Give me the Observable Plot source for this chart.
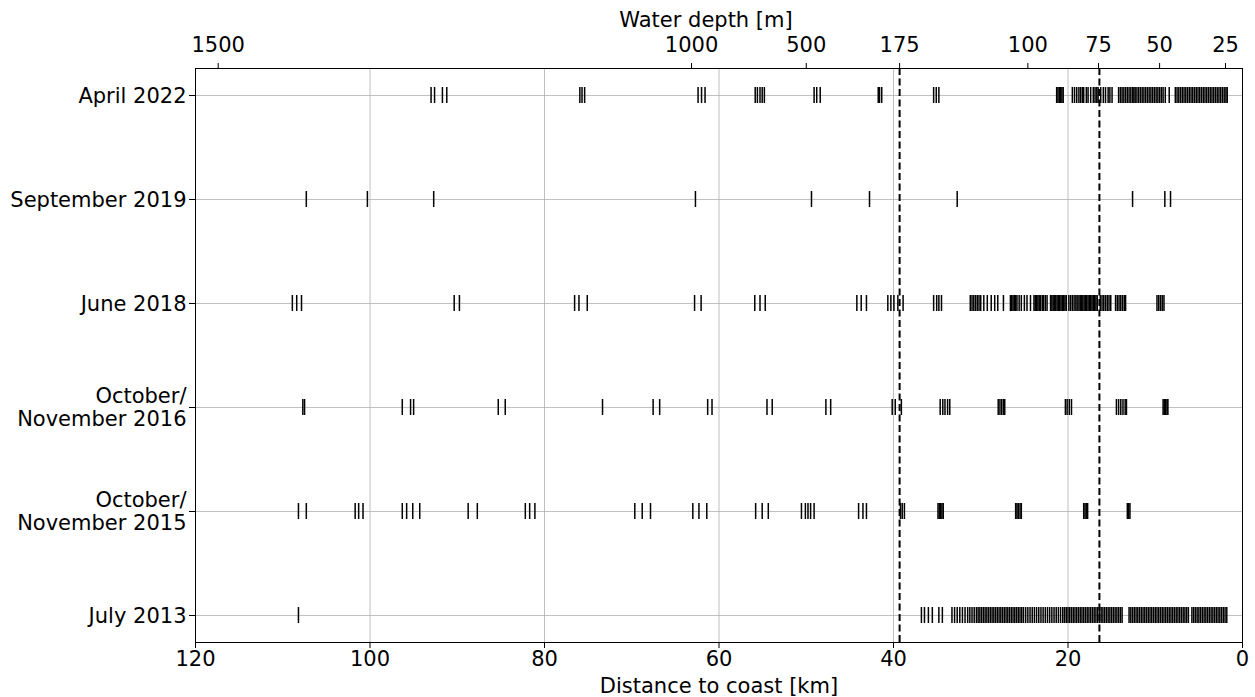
<!DOCTYPE html>
<html>
<head>
<meta charset="utf-8">
<script src="https://cdn.jsdelivr.net/npm/d3@7"></script>
<script src="https://cdn.jsdelivr.net/npm/@observablehq/plot@0.6"></script>
<style>
  html, body { margin: 0; padding: 0; background: #fff; }
</style>
</head>
<body>
<div id="chart"></div>
<script>
// Survey rows (top to bottom)
const surveys = ["April 2022", "September 2019", "June 2018", "October/\nNovember 2016", "October/\nNovember 2015", "July 2013"];

// Station positions: distance to coast [km]
const april2022 = [93.0, 92.6, 91.7, 91.2, 75.95, 75.7, 75.4, 62.4, 62.0, 61.6,
  55.85, 55.6, 55.3, 55.05, 54.8, 49.1, 48.8, 48.4, 41.75, 41.6, 41.35, 35.4, 35.1, 34.8,
  21.3, 21.15, 21.0, 20.85, 20.7, 20.55,
  19.5, 19.25, 19.0, 18.75, 18.55, 18.35, 18.2, 17.9, 17.7, 17.4, 17.1, 16.9, 16.7, 16.55, 16.25, 15.95, 15.7, 15.4, 15.2, 14.95,
  14.2, 14.0, 13.8, 13.6, 13.4, 13.2, 13.0, 12.8, 12.6, 12.45,
  12.3, 12.1, 11.9, 11.7, 11.5, 11.3, 11.1, 10.9, 10.7, 10.5, 10.3, 10.1, 9.9, 9.7, 9.5, 9.3, 9.1, 8.85,
  8.4,
  7.7, 7.5, 7.3, 7.1, 6.9, 6.7, 6.5, 6.3, 6.1, 5.9, 5.7, 5.5, 5.3, 5.1, 4.9, 4.7, 4.5, 4.3, 4.1, 3.9, 3.7, 3.5, 3.3, 3.1, 2.9, 2.7, 2.5, 2.3, 2.1, 1.9, 1.75];

const sept2019 = [107.3, 100.3, 92.7, 62.7, 49.4, 42.75, 32.7, 12.6, 8.9, 8.25];

const june2018 = [108.9, 108.4, 107.85, 90.35, 89.75, 76.55, 76.05, 75.1, 62.8, 62.05,
  55.9, 55.3, 54.7, 44.2, 43.7, 43.1, 40.65, 40.3, 39.95, 39.5, 38.9, 35.4, 35.05, 34.8, 34.5,
  31.2, 31.0, 30.8, 30.6, 30.4, 30.2, 30.0, 29.65, 29.25, 28.8, 28.4, 28.05, 27.4,
  26.6, 26.45, 26.3, 26.15, 26.0, 25.85, 25.6, 25.35, 25.0, 24.7, 24.3,
  23.9, 23.75, 23.6, 23.45, 23.3, 23.15, 22.95, 22.8, 22.6, 22.4,
  22.0, 21.85, 21.7, 21.55, 21.4, 21.25, 21.1, 20.95, 20.8, 20.65, 20.5, 20.35, 20.2,
  19.9, 19.7, 19.5, 19.3, 19.1, 18.95,
  18.75, 18.6, 18.45, 18.3, 18.15, 18.0, 17.85, 17.7, 17.55, 17.4, 17.25, 17.1, 16.95, 16.8, 16.65,
  16.3, 16.1, 15.9, 15.7, 15.5, 15.3, 15.1,
  14.55, 14.35, 14.15, 13.95, 13.75, 13.55, 13.4,
  9.8, 9.6, 9.4, 9.2, 9.0];

const octnov2016 = [107.7, 107.5, 96.3, 95.35, 95.0, 85.3, 84.5, 73.35, 67.55, 66.8, 61.3, 60.8,
  54.5, 53.9, 47.75, 47.2, 40.15, 39.8, 39.1, 34.65, 34.35, 34.1, 33.8, 33.55,
  28.0, 27.8, 27.6, 27.4, 27.25, 20.3, 20.1, 19.85, 19.6,
  14.45, 14.2, 13.95, 13.7, 13.45, 13.3, 9.1, 8.95, 8.8, 8.65, 8.55];

const octnov2015 = [108.2, 107.3, 101.7, 101.3, 100.8, 96.3, 95.8, 95.1, 94.3, 88.75, 87.7,
  82.2, 81.7, 81.1, 69.65, 68.8, 67.85, 63.0, 62.3, 61.4, 55.8, 55.05, 54.35,
  50.55, 50.1, 49.8, 49.5, 49.1, 44.0, 43.5, 43.1, 39.2, 39.0, 38.75,
  34.9, 34.75, 34.6, 34.45, 34.3, 26.0, 25.85, 25.7, 25.5, 25.35,
  18.2, 18.05, 17.9, 17.75, 13.2, 13.05, 12.9];

const july2013 = [108.2, 36.8, 36.45, 36.0, 35.55, 34.8, 34.4,
  33.3, 33.0, 32.7, 32.4, 32.1, 31.8, 31.5, 31.25, 31.0, 30.75, 30.5, 30.3, 30.1,
  29.9, 29.7, 29.5, 29.3, 29.1, 28.9, 28.7, 28.5, 28.3, 28.1,
  27.9, 27.7, 27.5, 27.3, 27.1, 26.9, 26.7, 26.5, 26.3, 26.1,
  25.9, 25.7, 25.5, 25.3, 25.1, 24.85, 24.6, 24.35, 24.1, 23.85, 23.6, 23.35,
  23.1, 22.85, 22.6, 22.35, 22.1, 21.85, 21.6, 21.35, 21.1, 20.85,
  20.6, 20.4, 20.2, 20.0, 19.8, 19.6, 19.4, 19.2, 19.0, 18.8, 18.6, 18.4, 18.2, 18.0, 17.8,
  17.6, 17.4, 17.2, 17.0, 16.8, 16.6, 16.4, 16.2, 16.0, 15.8, 15.6, 15.4, 15.2, 15.0, 14.8,
  14.6, 14.4, 14.2, 14.0, 13.8,
  13.0, 12.8, 12.6, 12.4, 12.2, 12.0, 11.8, 11.6, 11.4, 11.2, 11.0, 10.8, 10.6, 10.4, 10.2,
  10.0, 9.8, 9.6, 9.4, 9.2, 9.0, 8.8, 8.6, 8.4, 8.2, 8.0, 7.8, 7.6, 7.4, 7.2, 7.0, 6.8, 6.6,
  6.4, 6.2, 5.8, 5.6, 5.4, 5.2, 5.0, 4.8, 4.6, 4.4, 4.2, 4.0, 3.8, 3.6, 3.4, 3.2, 3.0, 2.8,
  2.6, 2.4, 2.2, 2.0, 1.8];

// Axis ticks
const distanceTicks = [120, 100, 80, 60, 40, 20, 0];
const depthLabels = [1500, 1000, 500, 175, 100, 75, 50, 25];
const depthTickKm = [117.4, 63.15, 50.0, 39.3, 24.6, 16.5, 9.5, 1.95];
// Reference lines (175 m and 75 m isobaths)
const isobathKm = [39.3, 16.4];

const seriesList = [april2022, sept2019, june2018, octnov2016, octnov2015, july2013];
const stations = surveys.flatMap((s, i) => seriesList[i].map(km => ({survey: s, km})));

const font = "DejaVu Sans, Liberation Sans, sans-serif";

const chart = Plot.plot({
  width: 1255,
  height: 697,
  marginLeft: 195,
  marginRight: 13,
  marginTop: 68,
  marginBottom: 55,
  style: {fontFamily: font, fontSize: "21px", background: "white", color: "black"},
  x: {domain: [120, 0], label: null},
  y: {type: "band", domain: surveys, paddingInner: 0.847, paddingOuter: 0.172, label: null},
  marks: [
    Plot.gridX(distanceTicks, {stroke: "#b0b0b0", strokeOpacity: 1, strokeWidth: 0.8}),
    Plot.gridY({stroke: "#b0b0b0", strokeOpacity: 1, strokeWidth: 0.8}),
    Plot.tickX(stations, {x: "km", y: "survey", stroke: "black", strokeWidth: 1.5}),
    Plot.ruleX(isobathKm, {stroke: "black", strokeWidth: 2, strokeDasharray: "7,3.5"}),
    Plot.frame({stroke: "black", strokeWidth: 1}),
    Plot.axisX(distanceTicks, {anchor: "bottom", tickSize: 6, tickPadding: 3, fontSize: 21, label: null}),
    Plot.text(["Distance to coast [km]"], {frameAnchor: "bottom", lineAnchor: "middle", dy: 44, fontSize: 21, fill: "black"}),
    Plot.axisX(depthTickKm, {anchor: "top", tickSize: 6, tickPadding: 11, fontSize: 21,
      tickFormat: d => String(depthLabels[depthTickKm.indexOf(d)]), label: null}),
    Plot.text(["Water depth [m]"], {frameAnchor: "top", lineAnchor: "middle", dy: -48, dx: -13, fontSize: 21, fill: "black"}),
    Plot.axisY({anchor: "left", tickSize: 6, tickPadding: 3, fontSize: 21, lineHeight: 1.1, label: null})
  ]
});

document.getElementById("chart").appendChild(chart);
</script>
</body>
</html>
